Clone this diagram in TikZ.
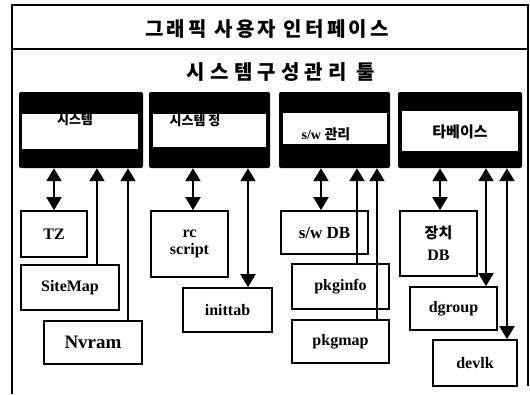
\documentclass[tikz,border=0pt]{standalone}
\usepackage{fontspec}
\setmainfont{Liberation Serif}
\newfontfamily\kr{Noto Sans CJK KR}
\newfontfamily\krtA{Noto Sans CJK KR}[LetterSpace=16]
\newfontfamily\krtB{Noto Sans CJK KR}[LetterSpace=26]
\usetikzlibrary{arrows.meta}
\tikzset{
  frameline/.style={line width=1.4pt},
  hdr/.style={fill=black, rounded corners=2pt, inner sep=0pt, minimum height=76pt},
  band/.style={fill=white, inner sep=0pt},
  bandtxt/.style={inner sep=0pt, font=\fontsize{14}{15}\selectfont\bfseries},
  lbox/.style={draw, line width=1.7pt, inner sep=0pt, align=center,
    font=\fontsize{16}{17}\selectfont\bfseries},
  tip/.tip={Triangle[width=15pt,length=13pt]},
  dbl/.style={line width=2.2pt, tip-tip},
  upar/.style={line width=2.2pt, -tip},
}
\begin{document}
\begin{tikzpicture}[x=1pt,y=-1pt]
\useasboundingbox (0,0) rectangle (530,394);
% frame
\draw[frameline] (12,394) -- (12,5) -- (528,5) -- (528,386);
\draw[frameline] (12,49) -- (528,49);
\node[inner sep=0pt] (t1) at (267,29) {\fontsize{20}{21}\krtA\bfseries 그래픽 사용자 인터페이스};
\node[inner sep=0pt] (t2) at (281,72) {\fontsize{20}{21}\krtB\bfseries 시스템구성관리 툴};
% header boxes
\node[hdr, minimum width=124pt] (h1) at (81,130) {};
\node[hdr, minimum width=121pt] (h2) at (209.5,130) {};
\node[hdr, minimum width=111pt] (h3) at (334.5,130) {};
\node[hdr, minimum width=124pt] (h4) at (460,130) {};
\node[band, minimum width=116pt, minimum height=35pt] (b1) at (80,131) {};
\node[band, minimum width=113pt, minimum height=33pt] (b2) at (209.5,130) {};
\node[band, minimum width=104pt, minimum height=31pt] (b3) at (334.5,128.5) {};
\node[band, minimum width=116pt, minimum height=40pt] (b4) at (460,130.5) {};
\node[bandtxt] (l1) at (75,120) {\kr\fontsize{13}{14}\selectfont\bfseries 시스템};
\node[bandtxt] (l2) at (195,121) {\kr\fontsize{13}{14}\selectfont\bfseries 시스템 정};
\node[bandtxt] (l3) at (326,134) {s/w \kr\bfseries 관리};
\node[bandtxt] (l4) at (460,132) {\kr\fontsize{15}{16}\selectfont\bfseries 타베이스};
% lower boxes
\node[lbox, minimum width=66pt, minimum height=46pt] (tz) at (54,234) {TZ};
\node[lbox, minimum width=98pt, minimum height=45pt] (sitemap) at (70,287.5) {SiteMap};
\node[lbox, minimum width=98pt, minimum height=43pt, font=\fontsize{19}{20}\selectfont\bfseries] (nvram) at (93,342.5) {Nvram};
\node[lbox, minimum width=77pt, minimum height=66pt] (rcs) at (189.5,244) {rc\\script};
\node[lbox, minimum width=89pt, minimum height=44pt] (inittab) at (227.5,310) {inittab};
\node[lbox, minimum width=87pt, minimum height=43pt, font=\fontsize{17}{18}\selectfont\bfseries] (swdb) at (324.5,232.5) {s/w DB};
\node[lbox, minimum width=97pt, minimum height=45pt] (pkginfo) at (340.5,286.5) {pkginfo};
\node[lbox, minimum width=97pt, minimum height=43pt] (pkgmap) at (340.5,341.5) {pkgmap};
\node[lbox, minimum width=77pt, minimum height=65pt] (jdb) at (438.5,243.5) {{\kr\fontsize{15}{16}\selectfont\bfseries 장치}\\[5pt]DB};
\node[lbox, minimum width=87pt, minimum height=43pt] (dgroup) at (453.5,308.5) {dgroup};
\node[lbox, minimum width=84pt, minimum height=46pt] (devlk) at (475,363) {devlk};
% connectors
\draw[dbl] (tz.north |- h1.south) -- (tz.north);
\draw[upar] ([xshift=27pt]sitemap.north) -- ([xshift=27pt]sitemap.north |- h1.south);
\draw[upar] ([xshift=35pt]nvram.north) -- ([xshift=35pt]nvram.north |- h1.south);
\draw[dbl] ([xshift=3.5pt]rcs.north |- h2.south) -- ([xshift=3.5pt]rcs.north);
\draw[dbl] ([xshift=20.5pt]inittab.north |- h2.south) -- ([xshift=20.5pt]inittab.north);
\draw[dbl] ([xshift=-3.5pt]swdb.north |- h3.south) -- ([xshift=-3.5pt]swdb.north);
\draw[upar] ([xshift=16.5pt]pkginfo.north) -- ([xshift=16.5pt]pkginfo.north |- h3.south);
\draw[upar] ([xshift=36.5pt]pkgmap.north) -- ([xshift=36.5pt]pkgmap.north |- h3.south);
\draw[dbl] ([xshift=1.5pt]jdb.north |- h4.south) -- ([xshift=1.5pt]jdb.north);
\draw[dbl] ([xshift=32.5pt]dgroup.north |- h4.south) -- ([xshift=32.5pt]dgroup.north);
\draw[dbl] ([xshift=32pt]devlk.north |- h4.south) -- ([xshift=32pt]devlk.north);
\end{tikzpicture}
\end{document}
